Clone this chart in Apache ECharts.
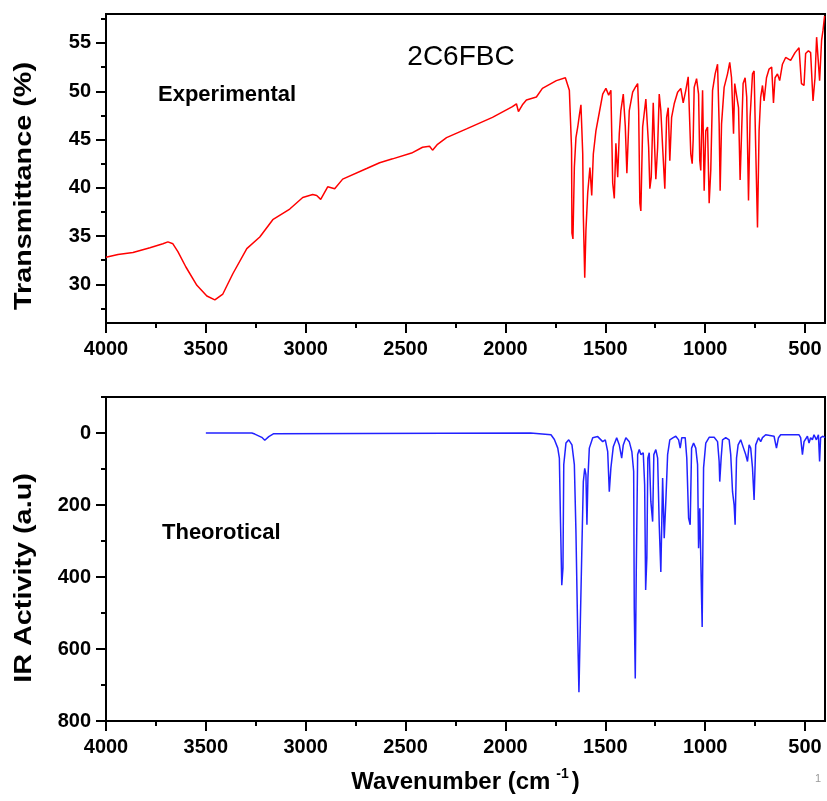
<!DOCTYPE html>
<html>
<head>
<meta charset="utf-8">
<script src="https://cdn.jsdelivr.net/npm/echarts@6/dist/echarts.min.js"></script>
<style>
  html, body { margin: 0; padding: 0; background: #fff; }
  #chart { width: 827px; height: 801px; }
</style>
</head>
<body>
<div id="chart"></div>
<script>
// experimental FT-IR (wavenumber cm-1, transmittance %)
const expWn = [4000, 3940, 3865, 3780, 3715, 3690, 3665, 3640, 3600, 3545, 3495, 3455, 3415, 3365, 3295, 3230, 3165, 3080, 3015, 2965, 2945, 2925, 2890, 2855, 2815, 2695, 2630, 2565, 2470, 2415, 2380, 2365, 2340, 2295, 2195, 2065, 1965, 1945, 1935, 1915, 1895, 1845, 1815, 1745, 1700, 1690, 1680, 1669, 1667, 1662, 1655, 1647, 1638, 1630, 1622, 1613, 1610, 1603, 1597, 1588, 1577, 1568, 1560, 1547, 1530, 1513, 1497, 1483, 1472, 1463, 1455, 1447, 1438, 1430, 1422, 1410, 1400, 1392, 1380, 1363, 1350, 1338, 1333, 1327, 1322, 1313, 1297, 1288, 1283, 1277, 1270, 1260, 1253, 1247, 1238, 1230, 1222, 1213, 1202, 1193, 1185, 1177, 1168, 1155, 1138, 1122, 1110, 1097, 1085, 1080, 1072, 1065, 1060, 1055, 1043, 1033, 1027, 1022, 1013, 1005, 997, 988, 980, 972, 963, 950, 938, 930, 925, 918, 905, 888, 877, 868, 858, 852, 842, 833, 825, 818, 810, 800, 792, 783, 775, 763, 755, 747, 738, 730, 722, 713, 705, 693, 680, 667, 658, 650, 638, 627, 613, 597, 572, 550, 530, 518, 505, 497, 483, 472, 460, 450, 442, 433, 427, 417, 410, 402];
const expT = [32.8, 33.1, 33.3, 33.8, 34.2, 34.4, 34.2, 33.4, 31.8, 29.9, 28.8, 28.4, 29.0, 31.1, 33.7, 34.9, 36.7, 37.8, 39.0, 39.3, 39.2, 38.8, 40.1, 39.9, 40.9, 42.0, 42.6, 43.0, 43.6, 44.2, 44.3, 43.9, 44.5, 45.2, 46.1, 47.3, 48.4, 48.7, 47.9, 48.6, 49.1, 49.4, 50.3, 51.1, 51.4, 51.2, 50.1, 44.1, 35.3, 34.7, 42.1, 45.2, 46.3, 47.5, 48.6, 43.5, 37.1, 30.7, 35.6, 39.5, 42.1, 39.2, 43.5, 45.9, 47.8, 49.7, 50.3, 49.6, 50.1, 40.5, 38.9, 44.6, 41.1, 45.6, 48.0, 49.7, 46.4, 41.5, 48.0, 49.9, 50.4, 50.8, 48.0, 38.4, 37.6, 46.3, 49.2, 49.0, 44.2, 39.9, 41.1, 48.8, 44.2, 40.9, 44.2, 49.7, 48.0, 44.2, 39.9, 47.3, 48.3, 42.8, 47.3, 48.7, 49.9, 50.3, 48.8, 50.1, 51.5, 51.4, 43.5, 42.5, 45.0, 50.4, 51.3, 49.7, 42.8, 41.8, 50.1, 39.7, 45.9, 46.3, 38.4, 41.8, 50.1, 51.8, 52.8, 46.6, 39.7, 46.6, 50.4, 51.8, 53.0, 51.4, 45.6, 50.8, 50.8, 48.3, 40.8, 40.8, 50.8, 51.4, 49.4, 38.7, 47.3, 51.8, 52.1, 44.2, 35.9, 45.9, 49.4, 50.6, 49.0, 51.4, 52.3, 52.5, 48.8, 51.4, 51.8, 51.1, 52.8, 53.5, 53.2, 54.0, 54.5, 50.8, 50.6, 53.9, 54.2, 54.0, 49.0, 51.4, 55.6, 55.8, 51.1, 55.3, 56.3, 57.8];

// theoretical (wavenumber cm-1, IR activity a.u)
const theoWn = [3500, 3270, 3255, 3220, 3205, 3185, 3160, 3150, 1875, 1865, 1772, 1755, 1738, 1730, 1725, 1718, 1712, 1708, 1697, 1683, 1667, 1655, 1647, 1638, 1632, 1625, 1618, 1610, 1603, 1597, 1592, 1587, 1580, 1563, 1538, 1513, 1500, 1488, 1480, 1472, 1460, 1443, 1430, 1418, 1410, 1397, 1380, 1367, 1358, 1355, 1350, 1345, 1338, 1330, 1322, 1310, 1303, 1298, 1292, 1287, 1280, 1272, 1263, 1257, 1247, 1238, 1230, 1222, 1213, 1205, 1197, 1188, 1177, 1160, 1147, 1133, 1125, 1117, 1100, 1092, 1083, 1075, 1068, 1058, 1047, 1038, 1033, 1027, 1018, 1015, 1008, 997, 980, 955, 938, 930, 927, 920, 913, 897, 880, 872, 863, 855, 850, 843, 835, 822, 808, 797, 788, 780, 772, 763, 755, 747, 733, 722, 713, 697, 655, 643, 633, 622, 530, 522, 513, 505, 488, 480, 472, 463, 455, 443, 433, 427, 422, 410, 400];
const theoA = [0, 0, 3, 12, 20, 10, 2, 0, 0, 5, 5, 18, 42, 70, 228, 423, 375, 88, 28, 19, 33, 88, 274, 562, 720, 525, 339, 135, 98, 116, 255, 125, 42, 13, 10, 24, 19, 52, 163, 97, 38, 13, 33, 70, 33, 13, 24, 52, 107, 487, 682, 386, 60, 46, 60, 55, 144, 436, 347, 70, 55, 190, 246, 60, 46, 70, 255, 386, 125, 292, 190, 60, 19, 13, 9, 19, 42, 13, 13, 70, 236, 255, 42, 28, 42, 88, 320, 209, 460, 539, 97, 28, 12, 12, 24, 79, 135, 70, 19, 13, 19, 60, 163, 200, 255, 70, 33, 19, 42, 60, 79, 33, 42, 97, 186, 33, 13, 24, 13, 5, 9, 42, 13, 5, 5, 13, 60, 24, 9, 28, 13, 19, 5, 19, 5, 79, 13, 9, 13];

// tick positions / labels
const xMajor = [4000, 3500, 3000, 2500, 2000, 1500, 1000, 500];
const xMinor = [3750, 3250, 2750, 2250, 1750, 1250, 750];
const tMajor = [30, 35, 40, 45, 50, 55];
const tMinor = [27.5, 32.5, 37.5, 42.5, 47.5, 52.5, 57.5];
const aMajor = [0, 200, 400, 600, 800];
const aMinor = [-100, 100, 300, 500, 700];

const FONT = '"Liberation Sans", Arial, sans-serif';
const lineStyle = { color: '#000', width: 2 };
const labelStyle = { color: '#000', fontSize: 20, fontWeight: 'bold', fontFamily: FONT, formatter: v => String(v) };

function majorAxis(grid, pos, min, max, inverse, ticks, extra) {
  return Object.assign({
    gridIndex: grid, position: pos, type: 'value', min: min, max: max, inverse: inverse,
    axisLine: { show: true, onZero: false, lineStyle: lineStyle },
    axisTick: { show: true, length: 10, lineStyle: lineStyle, customValues: ticks },
    axisLabel: Object.assign({ margin: 15, customValues: ticks }, labelStyle),
    splitLine: { show: false }
  }, extra || {});
}
function minorAxis(grid, pos, min, max, inverse, ticks) {
  return {
    gridIndex: grid, position: pos, type: 'value', min: min, max: max, inverse: inverse,
    axisLine: { show: false, onZero: false },
    axisTick: { show: true, length: 5, lineStyle: lineStyle, customValues: ticks },
    axisLabel: { show: false },
    splitLine: { show: false }
  };
}

const expData = expWn.map((w, i) => [w, expT[i]]);
const theoData = theoWn.map((w, i) => [w, theoA[i]]);

const chart = echarts.init(document.getElementById('chart'));
chart.setOption({
  animation: false,
  backgroundColor: '#fff',
  grid: [
    { left: 106, top: 14, width: 719, height: 309, show: true, borderColor: '#000', borderWidth: 2 },
    { left: 106, top: 397, width: 719, height: 324, show: true, borderColor: '#000', borderWidth: 2 }
  ],
  xAxis: [
    majorAxis(0, 'bottom', 400, 4000, true, xMajor, { axisLabel: Object.assign({ margin: 16, customValues: xMajor }, labelStyle) }),
    minorAxis(0, 'bottom', 400, 4000, true, xMinor),
    majorAxis(1, 'bottom', 400, 4000, true, xMajor, {
      axisLabel: Object.assign({ margin: 16, customValues: xMajor }, labelStyle),
      name: '{a|Wavenumber (cm}{s|-1}{a|)}',
      nameLocation: 'middle',
      nameGap: 46,
      nameTextStyle: {
        rich: {
          a: { fontSize: 24, fontWeight: 'bold', fontFamily: FONT, color: '#000', lineHeight: 30 },
          s: { fontSize: 14, fontWeight: 'bold', fontFamily: FONT, color: '#000', lineHeight: 30, verticalAlign: 'top', padding: [0, 3, 0, 6] }
        }
      }
    }),
    minorAxis(1, 'bottom', 400, 4000, true, xMinor)
  ],
  yAxis: [
    majorAxis(0, 'left', 26, 58, false, tMajor),
    minorAxis(0, 'left', 26, 58, false, tMinor),
    majorAxis(1, 'left', -100, 800, true, aMajor),
    minorAxis(1, 'left', -100, 800, true, aMinor)
  ],
  series: [
    {
      type: 'line', xAxisIndex: 0, yAxisIndex: 0, data: expData,
      showSymbol: false, lineStyle: { color: '#ff0000', width: 1.5 }
    },
    {
      type: 'line', xAxisIndex: 2, yAxisIndex: 2, data: theoData,
      showSymbol: false, lineStyle: { color: '#2222ff', width: 1.5 }
    }
  ],
  graphic: [
    {
      type: 'text', x: 24, y: 186, rotation: Math.PI / 2, scaleX: 1.2,
      style: { text: 'Transmittance (%)', font: 'bold 24px ' + FONT, fill: '#000', textAlign: 'center', textVerticalAlign: 'middle' }
    },
    {
      type: 'text', x: 24, y: 578, rotation: Math.PI / 2, scaleX: 1.2,
      style: { text: 'IR Activity (a.u)', font: 'bold 24px ' + FONT, fill: '#000', textAlign: 'center', textVerticalAlign: 'middle' }
    },
    {
      type: 'text', x: 461, y: 57,
      style: { text: '2C6FBC', font: '28px ' + FONT, fill: '#000', textAlign: 'center', textVerticalAlign: 'middle' }
    },
    {
      type: 'text', x: 158, y: 95,
      style: { text: 'Experimental', font: 'bold 22px ' + FONT, fill: '#000', textAlign: 'left', textVerticalAlign: 'middle' }
    },
    {
      type: 'text', x: 162, y: 533,
      style: { text: 'Theorotical', font: 'bold 22px ' + FONT, fill: '#000', textAlign: 'left', textVerticalAlign: 'middle' }
    },
    {
      type: 'text', x: 818, y: 779,
      style: { text: '1', font: '11px ' + FONT, fill: '#999', textAlign: 'center', textVerticalAlign: 'middle' }
    }
  ]
});
</script>
</body>
</html>
